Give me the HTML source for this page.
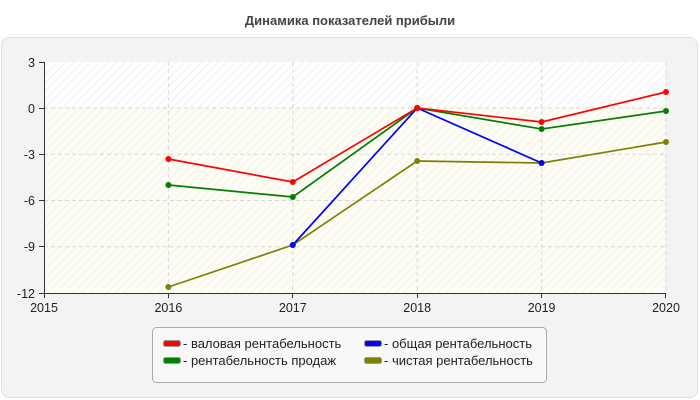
<!DOCTYPE html>
<html><head><meta charset="utf-8"><style>
body{margin:0;background:#fff;}
svg{display:block;font-family:"Liberation Sans",sans-serif;}
</style></head><body>
<svg width="700" height="400" viewBox="0 0 700 400" xmlns="http://www.w3.org/2000/svg">
<defs>
<pattern id="h" width="6" height="6" patternUnits="userSpaceOnUse" patternTransform="rotate(45)">
<rect width="6" height="6" fill="#ffffff"/><line x1="0" y1="0" x2="0" y2="6" stroke="#f0f0f0" stroke-width="2"/>
</pattern>
<pattern id="h2" width="6" height="6" patternUnits="userSpaceOnUse" patternTransform="rotate(45)">
<rect width="6" height="6" fill="#fdfdf5"/><line x1="0" y1="0" x2="0" y2="6" stroke="#f3f3ea" stroke-width="2"/>
</pattern>
</defs>
<text x="350" y="25" text-anchor="middle" font-size="13" font-weight="bold" fill="#444">Динамика показателей прибыли</text>
<rect x="1.5" y="37.5" width="696" height="360" rx="8" fill="#f3f3f3" stroke="#e0e0e0"/>
<rect x="44" y="62" width="622" height="46" fill="url(#h)"/>
<rect x="44" y="108" width="622" height="185" fill="url(#h2)"/>
<g stroke="#d8d8d8" stroke-dasharray="4,3">
<line x1="44" y1="108" x2="666" y2="108"/><line x1="44" y1="154.2" x2="666" y2="154.2"/>
<line x1="44" y1="200.5" x2="666" y2="200.5"/><line x1="44" y1="246.7" x2="666" y2="246.7"/>
<line x1="168.4" y1="62" x2="168.4" y2="293"/><line x1="292.8" y1="62" x2="292.8" y2="293"/>
<line x1="417.2" y1="62" x2="417.2" y2="293"/><line x1="541.6" y1="62" x2="541.6" y2="293"/>
<line x1="666" y1="62" x2="666" y2="293"/>
</g>
<g stroke="#333" stroke-width="1">
<line x1="44.5" y1="62" x2="44.5" y2="293"/><line x1="44" y1="293.5" x2="666" y2="293.5"/>
<line x1="39" y1="62.5" x2="44" y2="62.5"/><line x1="39" y1="108.5" x2="44" y2="108.5"/>
<line x1="39" y1="154.5" x2="44" y2="154.5"/><line x1="39" y1="200.5" x2="44" y2="200.5"/>
<line x1="39" y1="246.5" x2="44" y2="246.5"/><line x1="39" y1="293.5" x2="44" y2="293.5"/>
<line x1="44.5" y1="293" x2="44.5" y2="298"/><line x1="168.5" y1="293" x2="168.5" y2="298"/>
<line x1="292.5" y1="293" x2="292.5" y2="298"/><line x1="417.5" y1="293" x2="417.5" y2="298"/>
<line x1="541.5" y1="293" x2="541.5" y2="298"/><line x1="665.5" y1="293" x2="665.5" y2="298"/>
</g>
<g font-size="12.5" fill="#222" text-anchor="end">
<text x="35" y="67">3</text><text x="35" y="113">0</text><text x="35" y="159">-3</text>
<text x="35" y="205">-6</text><text x="35" y="251">-9</text><text x="35" y="298">-12</text>
</g>
<g font-size="12.5" fill="#222" text-anchor="middle">
<text x="44" y="312">2015</text><text x="168.4" y="312">2016</text><text x="292.8" y="312">2017</text>
<text x="417.2" y="312">2018</text><text x="541.6" y="312">2019</text><text x="666" y="312">2020</text>
</g>
<g fill="none" stroke-width="1.7">
<polyline stroke="#808000" points="168.4,287 292.8,245 417.2,161 541.6,163 666,142"/>
<polyline stroke="#0000ff" points="292.8,245 417.2,108 541.6,163"/>
<polyline stroke="#008000" points="168.4,185 292.8,197 417.2,108 541.6,129 666,111"/>
<polyline stroke="#ff0000" points="168.4,159 292.8,182 417.2,108 541.6,122 666,92"/>
</g>
<g fill="#808000"><circle cx="168.4" cy="287" r="3"/><circle cx="292.8" cy="245" r="3"/><circle cx="417.2" cy="161" r="3"/><circle cx="541.6" cy="163" r="3"/><circle cx="666" cy="142" r="3"/></g>
<g fill="#0000ff"><circle cx="292.8" cy="245" r="3"/><circle cx="417.2" cy="108" r="3"/><circle cx="541.6" cy="163" r="3"/></g>
<g fill="#008000"><circle cx="168.4" cy="185" r="3"/><circle cx="292.8" cy="197" r="3"/><circle cx="417.2" cy="108" r="3"/><circle cx="541.6" cy="129" r="3"/><circle cx="666" cy="111" r="3"/></g>
<g fill="#ff0000"><circle cx="168.4" cy="159" r="3"/><circle cx="292.8" cy="182" r="3"/><circle cx="417.2" cy="108" r="3"/><circle cx="541.6" cy="122" r="3"/><circle cx="666" cy="92" r="3"/></g>
<rect x="152.5" y="327.5" width="394" height="55" rx="4" fill="#f8f8f8" stroke="#aaa"/>
<g stroke="#999" stroke-width="1">
<rect x="163.5" y="340.5" width="17" height="6" rx="2" fill="#ff0000"/>
<rect x="163.5" y="357.5" width="17" height="6" rx="2" fill="#008000"/>
<rect x="364.5" y="340.5" width="17" height="6" rx="2" fill="#0000ff"/>
<rect x="364.5" y="357.5" width="17" height="6" rx="2" fill="#808000"/>
</g>
<g font-size="13" fill="#222">
<text x="183" y="348">- валовая рентабельность</text>
<text x="183" y="365">- рентабельность продаж</text>
<text x="384" y="348">- общая рентабельность</text>
<text x="384" y="365">- чистая рентабельность</text>
</g>
</svg>
</body></html>
